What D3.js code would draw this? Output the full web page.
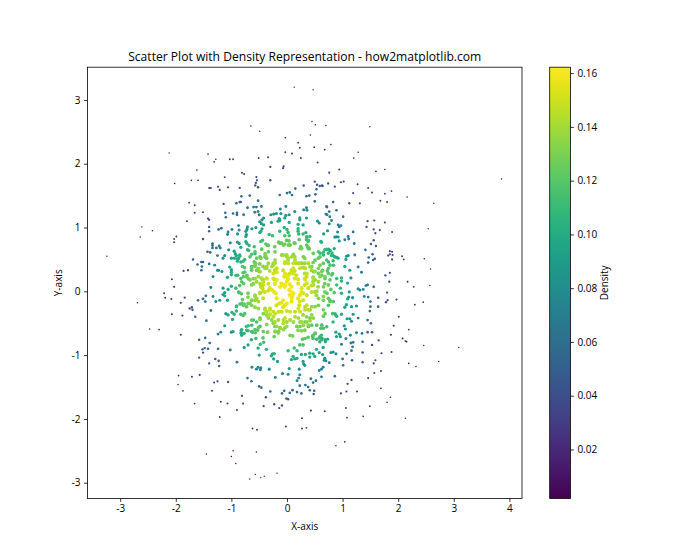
<!DOCTYPE html>
<html><head><meta charset="utf-8">
<script src="https://cdn.jsdelivr.net/npm/d3@7/dist/d3.min.js"></script>
<style>html,body{margin:0;padding:0;background:#fff}svg{display:block}text{font-family:"Open Sans","Noto Sans",sans-serif;fill:#000}</style>
</head><body><div id="chart"></div>
<script>
const xTicks=[-3,-2,-1,0,1,2,3,4];
const yTicks=[-3,-2,-1,0,1,2,3];
const densityTicks=[0.02,0.04,0.06,0.08,0.10,0.12,0.14,0.16];
const xDomain=[-3.588,4.227];
const yDomain=[-3.246,3.513];
const densityDomain=[0.0018,0.1622];
const chartTitle="Scatter Plot with Density Representation - how2matplotlib.com";
// [x, y, density]
const upperLeftPoints=[[.13,3.20,.002],[-.65,2.59,.008],[-.49,2.51,.01],[-.03,2.41,.013],[.20,2.33,.015],[.23,2.25,.017],[-2.12,2.17,.003],[-1.42,2.15,.009],[-1.28,2.07,.012],[-1.31,2.03,.013],[-1.03,2.07,.016],[-.97,2.07,.017],[-.51,2.09,.022],[-.34,2.10,.023],[-.03,2.18,.02],[.09,2.16,.021],[.25,2.09,.024],[-.30,1.95,.029],[-.06,1.96,.03],[-.07,1.93,.032],[-1.62,1.90,.011],[-.81,1.86,.027],[-.77,1.84,.027],[-1.72,1.74,.012],[-1.60,1.74,.014],[-1.12,1.79,.023],[-.55,1.79,.035],[-.54,1.74,.038],[-.56,1.70,.04],[-.30,1.74,.042],[-2.02,1.69,.008],[.30,1.66,.047],[-.57,1.66,.042],[-.52,1.63,.045],[-1.40,1.62,.022],[-1.37,1.62,.023],[-1.24,1.64,.026],[-1.21,1.59,.028],[-1.06,1.63,.03],[-.85,1.62,.037],[.15,1.61,.052],[0,1.54,.057],[.05,1.55,.056],[.09,1.51,.059],[-.13,1.51,.059],[.35,1.49,.057],[-.82,1.49,.045],[-.67,1.50,.05],[-.52,1.42,.059],[-.91,1.38,.05],[-.85,1.40,.05],[-.83,1.40,.05],[-1.76,1.39,.018],[-1.66,1.35,.022],[-1.14,1.37,.04],[-.02,1.33,.075],[.35,1.31,.072],[.30,1.28,.076],[-.12,1.29,.078],[-.6,1.32,.066],[-.55,1.32,.066],[-.46,1.33,.067],[-.71,1.31,.062],[-.58,1.24,.071],[-.52,1.25,.072],[-.50,1.20,.077],[-1.66,1.23,.025],[-1.51,1.24,.03],[-1.11,1.23,.049],[-.97,1.22,.055],[-.90,1.23,.059],[-.90,1.20,.06],[-.78,1.20,.066],[.14,1.25,.08],[-.29,1.20,.083],[-.24,1.21,.083],[-.19,1.22,.083],[-.11,1.22,.083],[-.02,1.19,.086],[.04,1.20,.086],[.23,1.15,.088],[.23,1.12,.09],[.35,1.15,.085],[-1.10,1.16,.053],[-1.42,1.14,.038],[-1.40,1.12,.04],[-.42,1.15,.083],[-.45,1.12,.085],[-.14,1.14,.09],[-.16,1.10,.093],[-.13,1.11,.093],[-.04,1.15,.09],[-1.80,1.10,.023],[-.49,1.09,.086],[-.46,1.06,.09],[-.42,1.04,.093],[-.28,1.08,.093],[.04,1.08,.096],[.20,1.05,.098],[.29,1.04,.096],[-.87,1.03,.072],[-.71,1.01,.083],[-.72,.97,.085],[-.74,.94,.086],[-.63,.98,.088],[-.56,1.0,.09],[-.45,.98,.097],[-.47,.94,.099],[-.49,.92,.1],[-1.40,1.01,.044],[-1.40,.94,.047],[-1.23,.97,.055],[-1.18,.99,.057],[-.99,.97,.07],[-.86,.96,.078],[-1.06,.93,.067],[-1.07,.89,.069],[-.89,.90,.08],[-.05,1.0,.104],[0,.97,.106],[.02,.92,.11],[.04,.87,.116],[-.13,.94,.108],[.20,.98,.104],[.20,.94,.107],[.21,.90,.11],[.29,.90,.108],[.34,.92,.105],[-2.61,1.01,.006],[-2.42,.95,.008],[-2.64,.85,.006],[-1.99,.86,.021],[-2.03,.82,.02],[-2.03,.77,.021],[-.73,.89,.09],[-.74,.86,.091],[-.32,.89,.108],[-.26,.87,.112],[-1.51,.82,.045],[-.04,.87,.116],[.22,.81,.12],[-1.02,.76,.079],[-.89,.77,.088],[-.74,.78,.097],[-.72,.75,.1],[-.68,.72,.105],[-.47,.78,.112],[-.38,.74,.12],[-.35,.72,.122],[-.15,.77,.123],[-.10,.76,.124],[-.04,.74,.126],[.13,.76,.124],[.05,.73,.127],[.25,.70,.126],[.37,.70,.122],[-1.34,.75,.057],[-1.34,.72,.058],[-1.34,.68,.06],[-1.27,.68,.065],[-1.22,.71,.067],[-1.2,.68,.07],[-.83,.69,.097],[-.59,.70,.111],[-.22,.70,.127],[-1.05,.65,.082],[-.93,.59,.095],[-.91,.56,.098],[-.95,.63,.09],[-.69,.64,.109],[-1.43,.62,.055],[-1.38,.61,.06],[-1.25,.56,.07],[-1.12,.56,.08],[-1.15,.52,.08],[-1.0,.52,.092],[-.95,.52,.096],[-.90,.51,.101],[-.85,.55,.103],[-.87,.51,.103],[-.76,.50,.113],[-.79,.47,.11],[-1.69,.50,.042],[-1.51,.46,.054],[-1.54,.46,.052],[-1.61,.42,.049],[-1.53,.39,.054],[-1.40,.43,.063],[-1.30,.41,.071],[-1.54,.33,.055],[-1.86,.32,.034],[-1.78,.33,.038],[-1.25,.33,.078],[-1.23,.33,.079],[-1.17,.31,.084],[-1.03,.38,.095],[-1.0,.34,.098],[-1.0,.30,.1],[-.80,.39,.114],[-.76,.37,.119],[-2.07,.19,.025],[-1.33,.23,.072],[-1.07,.22,.095],[-1.0,.26,.101],[-.92,.25,.107],[-.83,.20,.117],[-.79,.29,.119],[-.76,.30,.12],[-.72,.25,.125],[-3.24,.55,.002]];
const upperRightPoints=[[.47,3.16,.002],[.45,2.66,.007],[.51,2.61,.008],[.70,2.60,.007],[1.49,2.58,.003],[.42,2.45,.011],[.49,2.26,.016],[.68,2.22,.015],[.79,2.30,.012],[1.28,2.18,.01],[1.20,2.09,.013],[.55,2.02,.024],[.94,1.91,.023],[.76,1.86,.028],[1.60,1.88,.011],[1.76,1.91,.008],[.50,1.72,.04],[.54,1.67,.042],[.59,1.65,.042],[.63,1.66,.042],[.64,1.65,.042],[.74,1.69,.036],[.97,1.71,.03],[1.02,1.72,.03],[.86,1.64,.036],[1.27,1.68,.024],[1.46,1.62,.02],[.53,1.60,.047],[1.19,1.54,.03],[1.53,1.55,.02],[1.76,1.53,.015],[1.88,1.57,.012],[.51,1.52,.053],[.40,1.50,.056],[2.16,1.48,.008],[.50,1.41,.062],[.83,1.40,.051],[1.12,1.38,.041],[1.31,1.38,.033],[1.68,1.42,.019],[1.80,1.40,.017],[2.64,1.38,.003],[3.86,1.76,.002],[.71,1.33,.059],[.72,1.32,.059],[.36,1.27,.075],[.76,1.25,.064],[.89,1.27,.056],[.70,1.21,.069],[.72,1.20,.069],[.77,1.17,.068],[1.01,1.17,.056],[.55,1.10,.082],[.58,1.07,.084],[.80,1.11,.071],[.76,1.06,.076],[.92,1.04,.069],[.97,1.03,.067],[.94,1.01,.07],[1.45,1.10,.038],[1.57,1.11,.032],[1.76,1.08,.025],[1.43,1.01,.042],[1.56,.97,.037],[1.67,.96,.032],[1.59,.91,.037],[1.89,.93,.024],[2.54,.98,.006],[.73,.95,.086],[.66,.90,.093],[.41,.86,.107],[.91,.93,.076],[1.19,.93,.06],[.86,.85,.085],[.92,.85,.08],[1.10,.86,.069],[1.11,.82,.07],[1.04,.81,.075],[.94,.79,.083],[.35,.81,.114],[.38,.78,.117],[.62,.77,.105],[1.21,.75,.067],[1.56,.80,.042],[1.51,.74,.047],[1.60,.71,.043],[.38,.69,.123],[.40,.67,.123],[.85,.67,.096],[.77,.64,.104],[.71,.66,.107],[.68,.65,.109],[.75,.66,.104],[1.41,.65,.056],[.81,.60,.104],[.83,.56,.104],[.86,.54,.103],[.92,.52,.098],[1.07,.55,.085],[1.10,.56,.083],[1.22,.57,.072],[1.06,.50,.088],[1.54,.58,.05],[1.47,.53,.055],[1.55,.49,.051],[1.58,.51,.049],[1.46,.45,.058],[1.85,.63,.03],[1.89,.62,.029],[1.85,.58,.031],[1.82,.56,.033],[1.90,.57,.029],[1.89,.50,.03],[2.07,.55,.022],[2.10,.50,.021],[2.47,.51,.01],[2.58,.35,.008],[.83,.48,.107],[1.04,.39,.094],[1.28,.38,.074],[1.13,.33,.087],[.82,.28,.117],[.98,.21,.104],[.98,.16,.105],[1.15,.21,.088],[1.09,.13,.095],[1.34,.30,.07],[1.85,.29,.035],[1.77,.25,.04],[1.84,.15,.036],[2.17,.15,.02]];
const lowerLeftPoints=[[-2.03,.07,.027],[-2.21,-.03,.019],[-2.19,-.10,.02],[-2.08,-.12,.025],[-1.84,-.10,.036],[-1.91,-.18,.032],[-2.69,-.18,.007],[-1.37,.06,.07],[-1.46,-.07,.064],[-1.33,-.08,.074],[-1.60,-.14,.052],[-1.51,-.12,.059],[-1.47,-.16,.062],[-1.28,-.16,.078],[-1.21,-.14,.084],[-1.07,-.14,.097],[-1.15,.05,.09],[-1.06,.03,.098],[-1.0,.08,.104],[-.92,.05,.11],[-1.15,-.05,.09],[-1.12,-.02,.093],[-1.12,-.07,.093],[-.85,.09,.117],[-.78,.12,.122],[-.87,-.01,.116],[-.82,-.04,.12],[-.80,-.13,.121],[-.77,-.20,.122],[-.70,-.19,.127],[-.70,-.09,.129],[-.70,-.03,.13],[-.91,-.24,.108],[-.91,-.31,.107],[-.99,-.33,.1],[-.95,-.36,.103],[-1.10,-.35,.09],[-1.06,-.37,.093],[-.83,-.36,.112],[-.79,-.38,.115],[-.76,-.35,.119],[-.98,-.44,.097],[-1.75,-.27,.041],[-1.71,-.25,.044],[-1.70,-.29,.044],[-1.37,-.30,.068],[-2.07,-.36,.024],[-1.88,-.38,.032],[-1.65,-.40,.046],[-1.45,-.46,.058],[-1.12,-.54,.082],[-2.47,-.59,.01],[-2.30,-.60,.014],[-1.91,-.68,.027],[-1.24,-.67,.068],[-1.19,-.64,.072],[-1.0,-.64,.086],[-.97,-.63,.09],[-.82,-.61,.102],[-.82,-.66,.099],[-.77,-.66,.102],[-.73,-.55,.112],[-.70,-.62,.109],[-.62,-.64,.114],[-.57,-.65,.117],[-.35,-.64,.127],[-.21,-.63,.132],[-.15,-.63,.133],[-.23,-.71,.126],[.10,-.70,.129],[.20,-.61,.134],[.26,-.62,.131],[.32,-.61,.13],[-1.58,-.76,.043],[-1.47,-.73,.05],[-1.39,-.81,.052],[-1.52,-.91,.041],[-1.48,-.89,.044],[-1.42,-.90,.047],[-1.51,-.96,.04],[-1.24,-.90,.057],[-1.02,-.92,.07],[-1.58,-1.04,.034],[-1.29,-1.06,.048],[-1.23,-1.09,.05],[-1.40,-1.13,.039],[-1.22,-1.17,.047],[-.90,-1.11,.066],[-.64,-.76,.105],[-.56,-.74,.11],[-.43,-.73,.119],[-.48,-.83,.107],[-.42,-.80,.113],[-.70,-.84,.095],[-.77,-.88,.088],[-.52,-.89,.101],[-.37,-.91,.105],[-.50,-1.0,.093],[-.26,-.98,.103],[-.23,-.98,.104],[-.28,-1.01,.099],[-.24,-1.06,.096],[-.17,-1.10,.093],[.02,-.93,.109],[.13,-.89,.113],[.18,-.93,.108],[.23,-.84,.116],[.29,-.84,.114],[.28,-.75,.122],[.11,-1.02,.1],[.08,-1.07,.097],[.14,-1.06,.098],[.18,-1.05,.098],[.26,-.99,.1],[.33,-.99,.1],[.29,-1.10,.091],[.30,-1.14,.087],[.32,-1.16,.085],[.22,-1.22,.082],[.04,-1.21,.084],[-.32,-1.22,.08],[-.63,-1.19,.072],[-.52,-1.19,.077],[-.47,-1.20,.078],[-.55,-1.22,.073],[-.48,-1.23,.075],[-.08,-1.29,.078],[.02,-1.30,.077],[.23,-1.31,.074],[-.21,-1.35,.071],[-1.95,-1.32,.015],[-1.71,-1.34,.021],[-1.57,-1.31,.026],[-.71,-1.36,.057],[-.64,-1.41,.056],[-1.31,-1.43,.031],[-1.25,-1.41,.034],[-1.06,-1.42,.041],[.18,-1.40,.067],[.21,-1.36,.07],[-1.96,-1.46,.012],[.23,-1.48,.06],[.33,-1.47,.059],[-.50,-1.49,.055],[-.46,-1.51,.054],[-1.87,-1.56,.012],[-1.35,-1.56,.025],[-.30,-1.57,.053],[-.05,-1.56,.055],[-.09,-1.60,.052],[.10,-1.55,.056],[.05,-1.59,.053],[.18,-1.58,.053],[.26,-1.60,.051],[-.38,-1.66,.045],[-.81,-1.64,.037],[-.01,-1.68,.047],[.02,-1.69,.047],[-1.19,-1.73,.024],[-1.07,-1.76,.025],[-1.66,-1.76,.012],[-.79,-1.76,.031],[-.23,-1.77,.04],[-.42,-1.80,.036],[-.09,-1.79,.04],[-.14,-1.83,.037],[-.90,-1.86,.025],[-1.21,-1.97,.016],[.27,-1.99,.028],[-.62,-2.15,.018],[-.54,-2.17,.018],[-.02,-2.12,.023],[.27,-2.15,.021],[.35,-2.14,.021],[-.97,-2.50,.007],[-1.0,-2.59,.006],[-1.45,-2.55,.004],[-.55,-2.52,.009],[-.92,-2.70,.005],[-.18,-2.85,.005],[-.57,-2.87,.004],[-.41,-2.90,.004],[-.47,-2.92,.004],[-.67,-2.94,.003]];
const lowerRightPoints=[[1.28,.04,.079],[1.31,.02,.076],[1.37,.03,.07],[1.42,.09,.066],[1.45,.10,.064],[1.56,.07,.055],[.96,.05,.107],[1.12,-.01,.093],[.98,-.03,.105],[2.28,.07,.017],[2.57,.09,.009],[1.80,-.02,.039],[1.11,-.09,.093],[1.09,-.12,.095],[1.18,-.10,.087],[1.39,-.08,.069],[1.46,-.09,.064],[1.64,-.10,.05],[1.97,-.13,.029],[1.81,-.14,.038],[1.78,-.17,.04],[1.50,-.16,.06],[2.45,-.17,.012],[2.30,-.21,.016],[1.07,-.21,.095],[1.04,-.25,.098],[1.16,-.24,.087],[1.25,-.23,.079],[1.50,-.24,.058],[1.64,-.24,.049],[1.49,-.31,.058],[2.01,-.40,.026],[1.19,-.36,.082],[.82,-.35,.114],[.88,-.38,.107],[.98,-.36,.1],[1.08,-.43,.089],[1.13,-.43,.085],[1.16,-.47,.081],[1.28,-.42,.072],[1.45,-.45,.059],[1.51,-.50,.053],[1.92,-.54,.029],[1.03,-.54,.089],[1.05,-.59,.085],[.83,-.48,.107],[2.19,-.60,.017],[1.25,-.65,.068],[1.35,-.66,.06],[1.45,-.64,.054],[1.53,-.64,.049],[1.14,-.69,.074],[1.87,-.68,.029],[.88,-.64,.096],[.89,-.71,.091],[.94,-.67,.09],[.96,-.71,.086],[2.08,-.74,.019],[2.13,-.78,.017],[2.15,-.79,.017],[1.65,-.77,.038],[1.36,-.79,.055],[1.15,-.81,.068],[1.19,-.80,.066],[.98,-.83,.078],[1.06,-.74,.078],[1.53,-.84,.043],[2.46,-.85,.008],[3.09,-.88,.002],[1.18,-.87,.063],[1.16,-.93,.062],[1.88,-.95,.023],[1.70,-.97,.03],[1.36,-.96,.048],[1.07,-.98,.064],[.79,-.96,.082],[.83,-.95,.08],[.88,-.98,.076],[1.0,-1.06,.064],[1.17,-1.08,.053],[1.36,-1.11,.042],[1.59,-1.08,.032],[1.56,-1.13,.032],[2.19,-1.13,.011],[2.73,-1.10,.004],[2.32,-1.18,.008],[1.01,-1.16,.057],[1.69,-1.25,.024],[1.57,-1.28,.027],[.65,-1.19,.072],[.62,-1.22,.071],[.58,-1.24,.071],[.86,-1.33,.054],[.62,-1.34,.062],[.43,-1.37,.065],[.52,-1.40,.06],[.47,-1.43,.059],[1.46,-1.36,.029],[1.16,-1.39,.038],[1.09,-1.45,.038],[1.69,-1.52,.017],[.38,-1.50,.056],[.41,-1.55,.052],[.49,-1.56,.05],[.48,-1.61,.047],[1.07,-1.57,.033],[.97,-1.60,.035],[1.26,-1.57,.028],[1.86,-1.66,.011],[1.80,-1.74,.011],[1.49,-1.80,.015],[1.06,-1.83,.023],[.43,-1.87,.032],[.68,-1.88,.028],[1.37,-1.96,.013],[1.08,-1.98,.018],[2.13,-1.99,.004],[1.04,-2.36,.009],[.88,-2.42,.009],[.47,-.69,.12],[.51,-.66,.12],[.46,-.71,.119],[.38,-.72,.121],[.58,-.73,.109],[.62,-.69,.11],[.63,-.74,.106],[.59,-.79,.105],[.73,-.75,.099],[.69,-.79,.099],[.47,-.74,.115],[.65,-.88,.095],[.53,-.91,.098],[.58,-.96,.093],[.64,-.99,.087],[.41,-.97,.098],[.47,-.98,.096],[.50,-1.02,.091],[.41,-1.03,.094],[.68,-1.05,.081],[.67,-1.08,.079],[.70,-1.09,.077],[.76,-1.12,.072],[.79,.03,.122],[.85,-.02,.119]];
const centralPoints=[[.05,.11,.158],[.08,.07,.159],[.04,.02,.16],[.08,-.01,.16],[.05,-.06,.16],[.10,-.07,.158],[-.10,.12,.157],[-.07,.10,.158],[-.04,.07,.16],[-.31,.05,.154],[-.27,.02,.155],[-.34,.01,.152],[-.23,-.01,.156],[-.20,-.03,.157],[.26,-.01,.155],[.23,-.06,.156],[.20,-.11,.156],[.29,-.03,.153],[-.07,-.14,.157],[-.10,-.18,.156],[-.14,-.19,.155],[-.19,-.22,.152],[-.04,-.22,.155],[-.07,-.25,.153],[.08,-.16,.156],[.23,-.16,.152],[.22,-.22,.15],[.29,-.14,.15],[-.43,.18,.145],[-.46,.20,.142],[-.43,.10,.148],[-.44,.05,.148],[-.40,-.01,.15],[-.23,.19,.152],[-.22,.12,.155],[-.485,-.03,.145],[-.575,-.08,.138],[-.575,-.14,.136],[-.43,-.11,.146],[-.365,.20,.148],[-.605,.20,.132],[-.605,.12,.135],[-.635,.10,.132],[-.545,.15,.139],[.02,.25,.153],[.08,.33,.149],[.14,.32,.148],[.05,.28,.152],[.11,.28,.15],[.17,.25,.15],[.14,.20,.154],[.02,.19,.156],[-.07,.33,.149],[.20,.19,.152],[.20,.12,.155],[.32,.20,.146],[.32,.10,.15],[.32,.28,.143],[.47,.22,.138],[.47,.15,.14],[.44,.09,.145],[.44,-.01,.146],[.56,.07,.136],[.68,.12,.125],[.50,-.01,.141],[.53,-.06,.139],[.68,-.01,.126],[.72,-.03,.123],[-.25,.41,.14],[-.27,.39,.141],[-.37,.36,.137],[-.43,.39,.133],[-.49,.43,.127],[-.575,.41,.12],[-.635,.39,.115],[-.22,.33,.145],[-.31,.32,.143],[-.07,.57,.137],[-.01,.55,.138],[.02,.49,.142],[.14,.54,.138],[.17,.44,.143],[.23,.44,.141],[.32,.44,.136],[.32,.52,.132],[.29,.375,.141],[.47,.45,.128],[-.305,-.27,.145],[-.245,-.32,.146],[-.395,-.27,.14],[-.425,-.35,.134],[-.365,-.37,.137],[-.335,-.42,.135],[-.155,-.32,.149],[-.095,-.32,.149],[-.005,-.31,.15],[.055,-.32,.15],[.145,-.32,.148],[.325,-.24,.143],[.445,-.24,.137],[.505,-.24,.134],[.415,-.29,.137],[.565,-.22,.13],[.655,-.14,.127],[.565,-.11,.132],[.745,-.22,.117],[.29,-.37,.138],[.355,-.40,.133],[.415,-.42,.128],[.145,-.40,.142],[.205,-.42,.14],[.115,-.48,.138],[.235,-.48,.134],[.325,-.48,.13],[.055,-.45,.142],[-.005,-.48,.14],[-.065,-.45,.142],[-.275,-.45,.135],[-.245,-.50,.132],[-.155,-.45,.14],[-.215,-.55,.128],[-.485,-.42,.122],[-.545,-.48,.115],[-.605,-.45,.112],[-.485,-.55,.115],[.445,-.53,.123],[.535,-.53,.118],[.625,-.53,.113],[.175,-.55,.128],[.235,-.55,.126],[.385,-.55,.122],[-.125,-.57,.13],[-.035,-.57,.132],[-.635,-.53,.107],[-.635,-.14,.132],[-.665,-.19,.128],[-.335,.62,.125],[-.215,.62,.127],[-.575,.59,.11],[-.485,.54,.117],[-.395,.54,.124],[-.365,.52,.128],[-.215,.49,.135],[-.245,.44,.138],[-.485,.31,.133],[-.545,.33,.127],[-.635,.33,.12],[.115,.58,.135],[.295,.54,.13],[.265,.44,.138],[.505,.49,.122],[.595,.595,.11],[.655,.57,.108],[.445,.385,.13],[.475,.31,.132],[.565,.28,.128],[.64,.33,.122],[.725,.32,.118],[.745,.46,.108],[.325,.36,.138],[.505,.18,.135],[.685,.20,.122],[.625,.25,.125],[.655,.07,.128]];
const centerUpperLeftPoints=[[-.86,.75,.091],[-.85,.57,.101],[-.89,.47,.103],[-.83,.46,.108],[-.71,.65,.107],[-.575,.62,.119],[-.665,.54,.117],[-.635,.58,.116],[-.545,.52,.125],[-.47,.52,.13],[-.455,.66,.122],[-.44,.80,.112],[-.335,.72,.122],[-.395,.59,.129],[-.385,.56,.131],[-.635,.36,.127],[-.575,.39,.13],[-.515,.36,.135],[-.50,.31,.137],[-.565,.44,.128],[-.59,.46,.125],[-.395,.36,.14],[-.335,.44,.139],[-.365,.39,.14],[-.215,.44,.144],[-.185,.36,.149],[-.245,.28,.151],[-.185,.30,.152],[-.095,.57,.138],[-.005,.57,.139],[-.125,.75,.124],[-.065,.725,.127],[-.035,.46,.146],[-.05,.23,.156],[-.005,.23,.157],[-.035,.28,.155],[-.885,.25,.11],[-.785,.23,.12],[-.815,.15,.119],[-.725,.23,.125],[-.695,.20,.128],[-.665,.18,.13],[-.575,.20,.136],[-.515,.23,.139],[-.485,.12,.143],[-.455,.20,.143],[-.425,.15,.147],[-.47,.07,.145],[-.245,.20,.153],[-.185,.18,.156],[-.215,.12,.156],[-.365,.20,.149],[-.335,.12,.151],[-.125,.07,.16],[-.035,.10,.16],[-.005,.15,.159]];
const centerUpperRightPoints=[[-.006,.80,.122],[.036,.79,.123],[.024,.725,.127],[.054,.725,.127],[.144,.75,.125],[.354,.855,.11],[.384,.80,.113],[.354,.725,.121],[.384,.67,.123],[.234,.67,.128],[.264,.67,.128],[.61,.78,.105],[.89,.855,.082],[.594,.54,.122],[.564,.52,.124],[.474,.595,.125],[.564,.62,.119],[.654,.61,.113],[.714,.65,.107],[.774,.64,.103],[.744,.595,.107],[.80,.56,.106],[.86,.54,.102],[.893,.53,.1],[.714,.49,.116],[.834,.41,.11],[.774,.41,.115],[.744,.36,.12],[.654,.44,.123],[.594,.41,.128],[.084,.54,.14],[.144,.49,.143],[.024,.52,.142],[-.036,.44,.147],[.024,.44,.147],[.114,.44,.146],[.204,.44,.144],[.384,.44,.14],[.414,.385,.139],[.324,.36,.145],[.444,.33,.139],[.234,.36,.148],[.114,.36,.151],[.564,.36,.132],[.624,.31,.13],[.594,.23,.134],[.504,.31,.137],[.474,.20,.143],[.564,.15,.138],[.684,.23,.128],[.744,.28,.122],[.804,.255,.119],[.774,.18,.122],[.894,.20,.111],[.894,.10,.113],[.744,.10,.125],[.354,.28,.147],[.354,.23,.148],[.324,.18,.151],[.354,.125,.151],[.474,.10,.145],[.384,.05,.15],[.264,.05,.155]];
const centerLowerPoints=[[-.863,-.02,.116],[-.845,-.2,.116],[-.905,-.23,.11],[-.575,-.06,.138],[-.545,-.11,.139],[-.515,-.16,.14],[-.485,-.02,.144],[-.425,0,.148],[-.815,-.19,.119],[-.785,-.22,.121],[-.725,-.24,.125],[-.635,-.22,.132],[-.575,-.25,.135],[-.515,-.27,.138],[-.395,-.29,.144],[-.365,-.32,.144],[-.305,-.29,.148],[-.335,-.40,.142],[-.305,-.36,.146],[-.215,-.35,.149],[-.245,-.40,.146],[-.185,-.11,.157],[-.005,-.19,.158],[.115,-.03,.16],[.085,-.11,.159],[.355,-.06,.151],[.355,-.22,.149],[.205,-.27,.152],[.325,-.29,.147],[.385,-.29,.145],[.235,-.32,.15],[.535,0,.14],[.655,-.08,.133],[.745,-.11,.125],[.775,-.16,.122],[.445,-.37,.138],[.475,-.42,.135],[.655,-.29,.128],[.685,-.35,.124],[.655,-.39,.125],[.865,-.35,.11],[.895,-.39,.106],[.265,-.48,.14],[.355,-.48,.136],[.415,-.46,.136],[.295,-.53,.136],[.385,-.53,.133],[-.365,-.52,.134],[-.215,-.48,.141],[-.035,-.42,.148],[-.065,-.50,.143],[-.185,-.55,.137],[-.155,-.65,.132],[-.215,-.63,.132],[-.125,-.58,.137],[-.065,-.60,.136],[-.005,-.55,.14],[.055,-.69,.13],[-.635,-.45,.123],[-.485,-.44,.133],[-.695,-.54,.115],[-.575,-.60,.12],[-.515,-.57,.124],[-.53,-.61,.121],[-.815,-.60,.103],[-.725,-.61,.108],[-.635,-.63,.113],[-.827,-.65,.099],[-.815,-.69,.098],[-.425,-.63,.125],[.61,-.58,.119],[.655,-.58,.115],[.715,-.555,.112],[.505,-.66,.12],[.595,-.71,.11],[.625,-.76,.105],[.685,-.76,.1],[.535,-.75,.11],[.775,-.14,.123],[.835,-.16,.118],[.325,-.74,.121]];

const points=[...upperLeftPoints,...upperRightPoints,...lowerLeftPoints,...lowerRightPoints,...centralPoints,...centerUpperLeftPoints,...centerUpperRightPoints,...centerLowerPoints];

const W=700,H=560,plot={l:87.5,r:522,t:67.2,b:498.4},bar={l:549.7,r:570.4};
const svg=d3.select("#chart").append("svg").attr("width",W).attr("height",H);
const x=d3.scaleLinear().domain(xDomain).range([plot.l,plot.r]);
const y=d3.scaleLinear().domain(yDomain).range([plot.b,plot.t]);
const c=d3.scaleSequential(d3.interpolateViridis).domain(densityDomain);
const area=d3.scaleLinear().domain([0.002,0.16]).range([0.45,4.3]);
const cy=d3.scaleLinear().domain(densityDomain).range([plot.b,plot.t]);

svg.append("g").selectAll("circle").data(points).join("circle")
 .attr("cx",d=>x(d[0])).attr("cy",d=>y(d[1])).attr("r",d=>Math.sqrt(area(d[2]))).attr("fill",d=>c(d[2]));

const fmtAxis=g=>{g.selectAll("text").style("font-size","10px");g.selectAll("line,path").attr("stroke","#000").attr("stroke-width",0.8);};
svg.append("g").attr("transform",`translate(0,${plot.b})`).call(d3.axisBottom(x).tickValues(xTicks).tickFormat(String).tickSizeOuter(0).tickSize(3.5).tickPadding(3.5)).call(fmtAxis).select(".domain").remove();
svg.append("g").attr("transform",`translate(${plot.l},0)`).call(d3.axisLeft(y).tickValues(yTicks).tickFormat(String).tickSizeOuter(0).tickSize(3.5).tickPadding(3.5)).call(fmtAxis).select(".domain").remove();
svg.append("rect").attr("x",plot.l).attr("y",plot.t).attr("width",plot.r-plot.l).attr("height",plot.b-plot.t).attr("fill","none").attr("stroke","#000").attr("stroke-width",0.8);

const defs=svg.append("defs");
const grad=defs.append("linearGradient").attr("id","cb").attr("x1",0).attr("x2",0).attr("y1",1).attr("y2",0);
d3.range(0,1.0001,0.05).forEach(t=>grad.append("stop").attr("offset",t).attr("stop-color",d3.interpolateViridis(t)));
svg.append("rect").attr("x",bar.l).attr("y",plot.t).attr("width",bar.r-bar.l).attr("height",plot.b-plot.t).attr("fill","url(#cb)").attr("stroke","#000").attr("stroke-width",0.8);
svg.append("g").attr("transform",`translate(${bar.r},0)`).call(d3.axisRight(cy).tickValues(densityTicks).tickFormat(d3.format(".2f")).tickSize(3.5).tickPadding(3.5)).call(fmtAxis).select(".domain").remove();

svg.append("text").attr("x",(plot.l+plot.r)/2).attr("y",61).attr("text-anchor","middle").style("font-size","12.1px").text(chartTitle);
svg.append("text").attr("x",(plot.l+plot.r)/2).attr("y",530).attr("text-anchor","middle").style("font-size","10px").text("X-axis");
svg.append("text").attr("transform",`translate(62,${(plot.t+plot.b)/2}) rotate(-90)`).attr("text-anchor","middle").style("font-size","10px").text("Y-axis");
svg.append("text").attr("transform",`translate(608,${(plot.t+plot.b)/2}) rotate(-90)`).attr("text-anchor","middle").style("font-size","10px").text("Density");
</script></body></html>
